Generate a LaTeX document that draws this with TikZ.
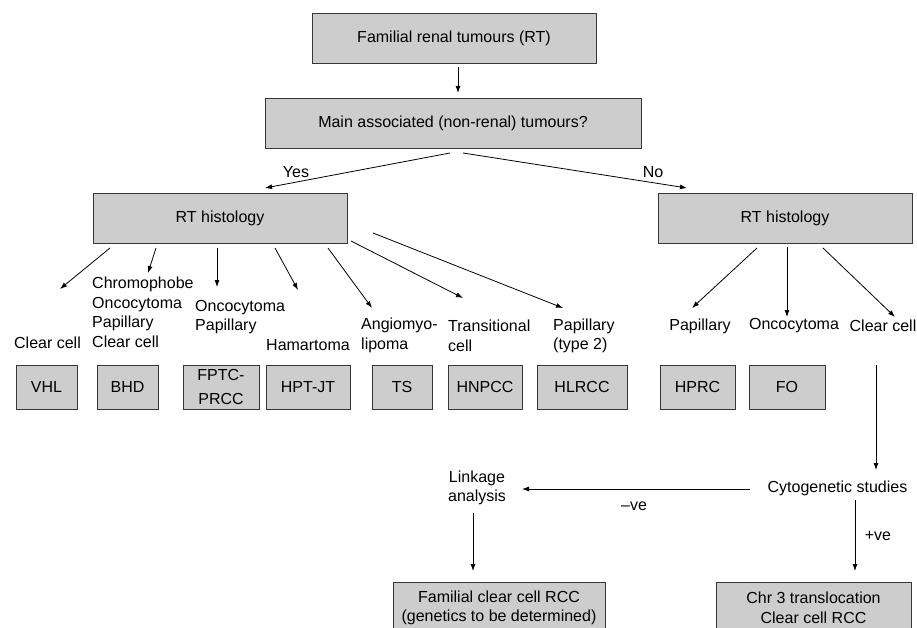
\documentclass[tikz,border=0pt]{standalone}
\usepackage{fontspec}
\setmainfont{Liberation Sans}
\usetikzlibrary{arrows.meta}
\definecolor{boxgray}{RGB}{205,205,205}
\definecolor{edgegray}{RGB}{55,55,55}
\begin{document}
\begin{tikzpicture}[x=1pt,y=-1pt,
  every node/.style={font=\fontsize{16}{19.5}\selectfont, inner sep=0pt, text=black},
  box/.style={draw=edgegray, fill=boxgray, line width=0.9pt, rectangle, align=center},
  sbox/.style={box, minimum height=44pt},
  lbl/.style={align=left, anchor=west},
  arr/.style={-{Latex[length=7pt,width=5pt]}, line width=0.8pt},
]
\useasboundingbox (0,0) rectangle (917,628);
\clip (0,0) rectangle (917,628);

% main boxes
\node[box, minimum width=284pt, minimum height=50pt] (top) at (454,38) {Familial renal tumours (RT)};
\node[box, minimum width=376pt, minimum height=50pt] (q) at (453,123) {Main associated (non-renal) tumours?};
\node[box, minimum width=254pt, minimum height=50pt] (lh) at (220,218) {RT histology};
\node[box, minimum width=254pt, minimum height=50pt] (rh) at (785,218) {RT histology};

% small boxes
\node[sbox, minimum width=61pt] (vhl) at (46.5,387) {VHL};
\node[sbox, minimum width=61pt] (bhd) at (127.5,387) {BHD};
\node[sbox, minimum width=76pt] (fptc) at (221,387) {FPTC-\\[4pt]PRCC};
\node[sbox, minimum width=84pt] (hpt) at (308,387) {HPT-JT};
\node[sbox, minimum width=60pt] (ts) at (402,387) {TS};
\node[sbox, minimum width=74pt] (hnpcc) at (485,387) {HNPCC};
\node[sbox, minimum width=90pt] (hlrcc) at (582,387) {HLRCC};
\node[sbox, minimum width=75pt] (hprc) at (697.5,387) {HPRC};
\node[sbox, minimum width=76pt] (fo) at (787,387) {FO};

% lower boxes
\node[box, minimum width=212pt, minimum height=52pt] (fam) at (499,608) {Familial clear cell RCC\\(genetics to be determined)};
\node[box, minimum width=195pt, minimum height=52pt] (chr) at (813.5,608) {Chr 3 translocation\\Clear cell RCC};

% labels
\node (yes) at (296,172) {Yes};
\node (no) at (653,172) {No};
\node (lvhl) at (47.5,343) {Clear cell};
\node[lbl] (lbhd) at (92,312.5) {Chromophobe\\Oncocytoma\\Papillary\\Clear cell};
\node[lbl] (lfptc) at (195,317) {Oncocytoma\\Papillary};
\node (lhpt) at (308,345) {Hamartoma};
\node[lbl] (lts) at (361,335.5) {Angiomyo-\\lipoma};
\node[lbl] (lhn) at (448,336) {Transitional\\cell};
\node[lbl] (lhl) at (553,336) {Papillary\\(type 2)};
\node (lpap) at (700,326) {Papillary};
\node (lonc) at (794,326) {Oncocytoma};
\node (lcc) at (883,326) {Clear cell};
\node (cyto) at (837.5,488) {Cytogenetic studies};
\node[align=center] (link) at (477,488) {Linkage\\analysis};
\node (neg) at (634,506) {–ve};
\node (pos) at (878,536) {+ve};

% connector end points
\coordinate (t1) at (458,67);  \coordinate (t2) at (458,93);
\coordinate (y1) at (450,153); \coordinate (y2) at (265,188);
\coordinate (n1) at (463,153); \coordinate (n2) at (687,188);
\coordinate (a1) at (110,248); \coordinate (a2) at (60,289);
\coordinate (b1) at (156,248); \coordinate (b2) at (148,273);
\coordinate (c1) at (217,248); \coordinate (c2) at (217,287);
\coordinate (d1) at (275,248); \coordinate (d2) at (298,290);
\coordinate (e1) at (328,248); \coordinate (e2) at (372,308);
\coordinate (f1) at (351,241); \coordinate (f2) at (463,298);
\coordinate (g1) at (373,233); \coordinate (g2) at (563,308);
\coordinate (p1) at (757,248); \coordinate (p2) at (692,308);
\coordinate (o1) at (787,247); \coordinate (o2) at (787,317);
\coordinate (k1) at (823,248); \coordinate (k2) at (895,317);
\coordinate (v1) at (876,365); \coordinate (v2) at (876,470);
\coordinate (h1) at (750,489); \coordinate (h2) at (522,489);
\coordinate (l1) at (473,513); \coordinate (l2) at (473,571);
\coordinate (s1) at (855,500); \coordinate (s2) at (855,571);

\foreach \s in {t,y,n,a,b,c,d,e,f,g,p,o,k,v,h,l,s}
  \draw[arr] (\s1) -- (\s2);
\end{tikzpicture}
\end{document}
